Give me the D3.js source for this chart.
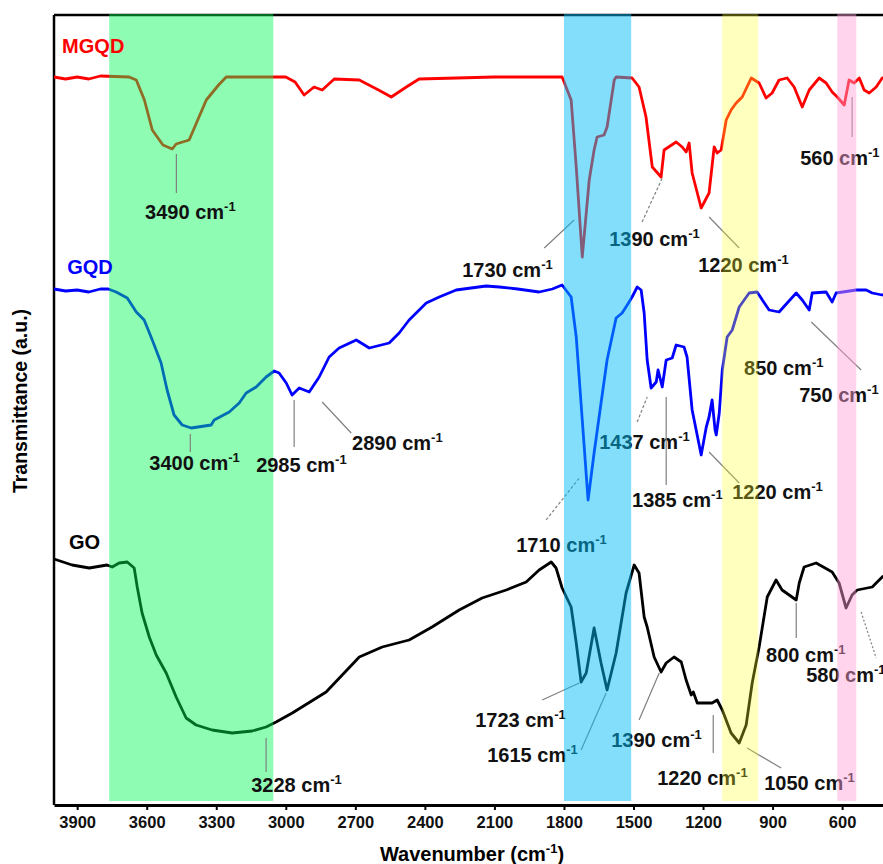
<!DOCTYPE html>
<html lang="en">

<head>
    <meta charset="UTF-8">
    <title>FTIR spectra</title>
    <style>
        body {
            margin: 0;
            background: #fff;
        }

        svg {
            display: block;
        }

        svg text {
            font-family: "Liberation Sans", Arial, sans-serif;
            font-weight: bold;
        }
    </style>
</head>

<body>
    <svg></svg>
    <script src="https://d3js.org/d3.v7.min.js"></script>
    <script>
        // tick labels on the wavenumber axis
        var xTicks = [3900, 3600, 3300, 3000, 2700, 2400, 2100, 1800, 1500, 1200, 900, 600];

        // spectra: [wavenumber, transmittance (a.u.)]
        var mgqd = [
            [4000, 72.8], [3950, 72.6], [3900, 72.8], [3850, 72.6], [3800, 72.9], [3676, 72.8], [3645, 72.5],
            [3610, 70.5], [3576, 67.5], [3530, 66.0], [3490, 65.6], [3473, 66.1], [3417, 66.5], [3380, 68.5],
            [3343, 70.5], [3290, 72.0], [3257, 72.8], [3000, 72.8], [2960, 72.3], [2921, 71.0], [2878, 71.8],
            [2843, 71.5], [2791, 72.6], [2683, 72.5], [2600, 71.5], [2545, 70.8], [2480, 71.8], [2425, 72.6],
            [2100, 72.8], [1900, 72.8], [1808, 72.8], [1769, 70.5], [1747, 63.8], [1721, 54.8], [1691, 62.5],
            [1670, 65.5], [1657, 66.8], [1627, 67.0], [1614, 67.8], [1583, 72.5], [1575, 72.8], [1506, 72.7],
            [1476, 71.8], [1446, 68.8], [1419, 63.8], [1381, 62.8], [1368, 65.5], [1316, 66.3], [1290, 65.8],
            [1273, 65.3], [1260, 66.2], [1247, 63.2], [1208, 59.7], [1174, 61.2], [1152, 65.8], [1139, 65.2],
            [1122, 65.5], [1100, 68.5], [1079, 69.5], [1057, 70.2], [1031, 70.8], [992, 72.7], [958, 72.2],
            [928, 70.7], [902, 71.2], [872, 72.5], [837, 72.7], [807, 71.8], [772, 69.8], [742, 71.5],
            [699, 72.7], [669, 72.2], [643, 71.3], [621, 70.8], [591, 70.0], [570, 72.5], [548, 72.2],
            [526, 72.7], [505, 71.5], [483, 71.2], [453, 71.8], [427, 72.7], [400, 72.9]
        ];

        var gqd = [
            [4000, 51.6], [3950, 51.4], [3900, 51.5], [3850, 51.3], [3800, 51.6], [3766, 51.6], [3732, 51.3],
            [3684, 50.7], [3645, 49.3], [3611, 48.5], [3576, 46.5], [3538, 44.2], [3512, 41.5], [3482, 39.0],
            [3447, 38.0], [3408, 37.7], [3322, 38.0], [3309, 38.5], [3244, 39.3], [3201, 40.2], [3171, 41.2],
            [3128, 41.8], [3085, 42.8], [3050, 43.4], [3029, 43.2], [2998, 42.2], [2973, 41.0], [2942, 41.7],
            [2899, 41.3], [2856, 42.8], [2813, 44.8], [2770, 45.7], [2696, 46.5], [2640, 45.7], [2554, 46.2],
            [2511, 47.2], [2468, 48.5], [2394, 50.2], [2338, 50.8], [2265, 51.5], [2136, 51.9], [2079, 51.8],
            [2000, 51.6], [1907, 51.3], [1850, 51.6], [1808, 52.0], [1769, 50.8], [1747, 46.8], [1721, 38.5],
            [1696, 30.5], [1670, 35.2], [1640, 40.2], [1614, 44.5], [1575, 48.7], [1549, 49.2], [1527, 50.0],
            [1506, 50.8], [1484, 51.8], [1467, 51.5], [1454, 49.2], [1441, 44.5], [1424, 41.7], [1402, 42.3],
            [1394, 43.5], [1376, 41.8], [1359, 44.5], [1333, 44.7], [1316, 46.0], [1282, 45.8], [1269, 44.8],
            [1247, 39.5], [1208, 35.0], [1186, 37.8], [1174, 38.8], [1161, 40.5], [1148, 37.5], [1143, 37.0],
            [1130, 39.2], [1117, 43.5], [1096, 46.8], [1074, 47.5], [1044, 49.8], [1001, 51.2], [967, 51.3],
            [915, 49.5], [872, 49.3], [837, 50.2], [798, 51.2], [772, 50.5], [742, 49.5], [729, 51.2],
            [669, 51.3], [643, 50.3], [626, 51.2], [539, 51.5], [496, 51.5], [470, 51.2], [427, 51.0], [400, 51.2]
        ];

        var go = [
            [4000, 24.6], [3922, 24.0], [3848, 23.7], [3771, 24.0], [3749, 23.8], [3719, 24.2], [3684, 24.3],
            [3654, 23.7], [3641, 21.8], [3620, 19.2], [3589, 16.8], [3559, 15.0], [3516, 13.2], [3473, 10.8],
            [3430, 8.7], [3387, 8.0], [3318, 7.5], [3231, 7.2], [3145, 7.4], [3085, 7.8], [3042, 8.3],
            [2972, 9.2], [2826, 11.3], [2683, 14.8], [2584, 15.8], [2468, 16.5], [2369, 17.8], [2252, 19.5],
            [2153, 20.7], [2049, 21.5], [1963, 22.3], [1907, 23.5], [1855, 24.3], [1834, 23.7], [1808, 21.7],
            [1769, 19.8], [1747, 16.2], [1726, 12.3], [1704, 13.2], [1670, 17.7], [1640, 14.2], [1614, 11.5],
            [1575, 15.2], [1532, 21.2], [1497, 24.0], [1476, 23.2], [1454, 18.8], [1441, 17.8], [1411, 14.8],
            [1381, 13.3], [1359, 14.2], [1325, 14.8], [1294, 14.3], [1273, 12.5], [1251, 11.0], [1242, 11.3],
            [1225, 10.2], [1161, 10.2], [1139, 10.5], [1117, 9.5], [1079, 7.2], [1044, 6.2], [1014, 8.0],
            [988, 12.2], [958, 15.8], [923, 20.8], [885, 22.5], [859, 21.5], [798, 20.5], [785, 22.2],
            [764, 23.8], [712, 24.2], [643, 23.3], [613, 22.2], [583, 19.7], [557, 21.0], [535, 21.5],
            [470, 21.8], [427, 22.8], [400, 23.2]
        ];

        var seriesNames = ["MGQD", "GQD", "GO"];
        var seriesColors = ["#ff0000", "#0000ff", "#000000"];
        // where each series name sits: [wavenumber, transmittance]
        var seriesLabelPos = [[3965, 75.2], [3943, 53.1], [3935, 25.6]];

        // highlighted regions [from, to] in cm-1 and their fills
        var bandRanges = [[3762, 3054], [1800, 1510], [1117, 962], [621, 539]];
        var bandFills = ["rgba(0,248,84,0.44)", "rgba(0,188,245,0.49)", "rgba(255,255,40,0.3)", "rgba(255,160,213,0.45)"];
        // the green band sits under the labels, the others tint them
        var bandOverText = [false, true, true, true];

        // peak annotations: label, text anchor [w, T], leader [w1, T1, w2, T2], dash
        var peakLabels = ["3490", "1730", "1390", "1220", "560",
            "3400", "2985", "2890", "1710", "1437", "1385", "1220", "850", "750",
            "3228", "1723", "1615", "1390", "1220", "1050", "800", "580"];
        var peakTextPos = [[3607, 58.6], [2239, 52.8], [1605, 55.9], [1221, 53.3], [781, 64.0],
            [3589, 33.5], [3128, 33.3], [2714, 35.5], [2006, 25.3], [1648, 35.6], [1506, 29.8], [1074, 30.6], [1023, 43.0], [785, 40.3],
            [3149, 1.3], [2183, 7.8], [2131, 4.3], [1596, 5.8], [1398, 2.0], [936, 1.5], [928, 14.3], [755, 12.3]];
        var peakLeaders = [[3472, 65.1, 3472, 61.2], [1885, 55.7, 1756, 58.5], [1463, 58.3, 1376, 62.7], [1174, 58.8, 1044, 55.7], [557, 70.8, 557, 66.8],
            [3412, 37.1, 3412, 35.3], [2964, 40.5, 2964, 35.8], [2843, 40.3, 2718, 37.2], [1877, 28.5, 1734, 32.7], [1484, 38.3, 1441, 40.8], [1359, 40.8, 1359, 32.0], [1174, 35.3, 1044, 32.2], null, [733, 48.3, 518, 43.5],
            [3085, 6.7, 3085, 3.3], [1894, 10.5, 1734, 12.2], [1726, 5.5, 1618, 11.2], [1476, 8.5, 1389, 13.2], [1156, 9.0, 1156, 5.2], [1010, 5.7, 863, 3.7], [798, 20.2, 798, 16.7], [518, 19.3, 453, 14.7]];
        var peakDash = [null, null, "3,2", null, null,
            null, null, null, "3,2", "3,2", null, null, null, null,
            null, null, null, null, null, null, null, "2,2"];

        var svgWidth = 883,
            svgHeight = 864;
        var plotLeft = 54,
            plotTop = 15,
            plotBottom = 805;

        var svg = d3.select("svg")
            .attr("width", svgWidth)
            .attr("height", svgHeight);

        var x = d3.scaleLinear().domain([4000, 400]).range([plotLeft, plotLeft + 3600 * 0.2318]);
        var y = d3.scaleLinear().domain([0, 79]).range([plotBottom, plotTop]);

        // frame: top and left lines
        svg.append("line")
            .attr("x1", plotLeft).attr("x2", svgWidth)
            .attr("y1", plotTop).attr("y2", plotTop)
            .attr("stroke", "#000").attr("stroke-width", 2.5);
        svg.append("line")
            .attr("x1", plotLeft).attr("x2", plotLeft)
            .attr("y1", plotTop).attr("y2", plotBottom)
            .attr("stroke", "#000").attr("stroke-width", 2.5);

        var xAxis = svg.append("g")
            .attr("transform", "translate(0," + plotBottom + ")")
            .call(d3.axisBottom(x).tickValues(xTicks).tickFormat(d3.format("d"))
                .tickSize(5).tickSizeOuter(0).tickPadding(6));
        xAxis.select(".domain").attr("stroke-width", 3);
        xAxis.selectAll(".tick line").attr("stroke-width", 2);
        xAxis.selectAll(".tick text")
            .attr("font-size", 16.5)
            .attr("fill", "#111");

        svg.append("text")
            .attr("x", 472)
            .attr("y", 861)
            .attr("text-anchor", "middle")
            .attr("font-size", 20)
            .text("Wavenumber (cm")
            .call(function(t) {
                t.append("tspan").attr("dy", -8).attr("font-size", 13).text("-1");
                t.append("tspan").attr("dy", 8).text(")");
            });

        svg.append("text")
            .attr("transform", "translate(27,401) rotate(-90)")
            .attr("text-anchor", "middle")
            .attr("font-size", 19.5)
            .text("Transmittance (a.u.)");

        var line = d3.line()
            .x(function(d) {
                return x(d[0]);
            })
            .y(function(d) {
                return y(d[1]);
            });

        function drawBands(overText) {
            bandRanges.forEach(function(b, i) {
                if (bandOverText[i] !== overText) return;
                svg.append("rect")
                    .attr("x", x(b[0]))
                    .attr("width", x(b[1]) - x(b[0]))
                    .attr("y", plotTop - 1)
                    .attr("height", plotBottom - plotTop - 3)
                    .attr("fill", bandFills[i]);
            });
        }

        [mgqd, gqd, go].forEach(function(data, i) {
            svg.append("path")
                .datum(data)
                .attr("fill", "none")
                .attr("stroke", seriesColors[i])
                .attr("stroke-width", 2.8)
                .attr("stroke-linejoin", "round")
                .attr("d", line);
        });

        drawBands(false);

        seriesNames.forEach(function(name, i) {
            svg.append("text")
                .attr("x", x(seriesLabelPos[i][0]))
                .attr("y", y(seriesLabelPos[i][1]))
                .attr("font-size", 20)
                .attr("fill", seriesColors[i])
                .text(name);
        });

        // leader lines and peak labels
        peakLabels.forEach(function(lab, i) {
            var l = peakLeaders[i];
            if (l) {
                svg.append("line")
                    .attr("x1", x(l[0])).attr("y1", y(l[1]))
                    .attr("x2", x(l[2])).attr("y2", y(l[3]))
                    .attr("stroke", "#808080")
                    .attr("stroke-width", 1.2)
                    .attr("stroke-dasharray", peakDash[i]);
            }
            var t = svg.append("text")
                .attr("x", x(peakTextPos[i][0]))
                .attr("y", y(peakTextPos[i][1]))
                .attr("font-size", 20)
                .attr("fill", "#111")
                .text(lab + " cm");
            t.append("tspan")
                .attr("dy", -8)
                .attr("font-size", 13)
                .text("-1");
        });

        // translucent bands laid over the labels
        drawBands(true);
    </script>
</body>

</html>
